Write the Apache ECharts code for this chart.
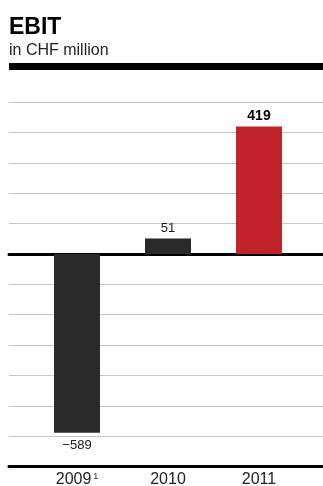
<!DOCTYPE html>
<html>
<head>
<meta charset="utf-8">
<script src="https://cdn.jsdelivr.net/npm/echarts@6/dist/echarts.min.js"></script>
<style>
html,body{margin:0;padding:0;background:#fff;}
#c{width:323px;height:486px;}
</style>
</head>
<body>
<div id="c"></div>
<script>
// ---- data ----
var categories = ['2009', '2010', '2011'];
var footnotes = ['1', '', ''];
var ebitValues = [-589, 51, 419];
var yTicks = { min: -700, max: 500, step: 100 };
var titleText = 'EBIT';
var subtitleText = 'in CHF million';

var DARK = '#2a2a2a', RED = '#c0232a', GRID = '#c6c6c6';
var FONT = '"Liberation Sans", Arial, sans-serif';
var hi = ebitValues.length - 1;

var chart = echarts.init(document.getElementById('c'), null, { renderer: 'canvas' });

var barData = ebitValues.map(function (v, i) {
  return {
    value: v,
    itemStyle: { color: i === hi ? RED : DARK },
    label: {
      position: v < 0 ? 'bottom' : 'top',
      distance: v < 0 ? 6 : 3,
      fontWeight: i === hi ? 'bold' : 'normal',
      fontSize: i === hi ? 14 : 13,
      color: i === hi ? '#000' : '#222'
    }
  };
});

chart.setOption({
  animation: false,
  backgroundColor: '#fff',
  title: {
    text: titleText,
    subtext: subtitleText,
    left: 4,
    top: 11,
    itemGap: 4,
    textStyle: { fontFamily: FONT, fontSize: 23, fontWeight: 900, color: '#000' },
    subtextStyle: { fontFamily: FONT, fontSize: 16, color: '#222' }
  },
  graphic: [{
    type: 'rect',
    shape: { x: 9, y: 63, width: 314, height: 7 },
    style: { fill: '#000' }
  }],
  grid: [
    { left: 9, right: 0, top: 102, bottom: 19.4, containLabel: false, outerBoundsMode: 'none' },
    { left: 31.5, right: 18.5, top: 102, bottom: 19.4, containLabel: false, outerBoundsMode: 'none' }
  ],
  xAxis: [
    { gridIndex: 0, type: 'value', min: 0, max: 1, position: 'bottom',
      axisLine: { show: true, onZero: false, lineStyle: { color: '#000', width: 3 } },
      axisTick: { show: false }, axisLabel: { show: false }, splitLine: { show: false } },
    { gridIndex: 0, type: 'value', min: 0, max: 1, position: 'top',
      axisLine: { show: true, onZero: true, lineStyle: { color: '#000', width: 3 } },
      axisTick: { show: false }, axisLabel: { show: false }, splitLine: { show: false } },
    { gridIndex: 1, type: 'category', data: categories, position: 'bottom',
      axisLine: { show: false, onZero: false }, axisTick: { show: false },
      splitLine: { show: false },
      axisLabel: {
        interval: 0,
        margin: 5,
        fontFamily: FONT, fontSize: 16, color: '#222',
        formatter: function (val, idx) {
          var f = footnotes[idx];
          return f ? '{y|' + val + '}{s|' + '\u2009' + f + '}' : '{y|' + val + '}';
        },
        rich: {
          y: { fontFamily: FONT, fontSize: 16, lineHeight: 16, color: '#222' },
          s: { fontFamily: FONT, fontSize: 9, lineHeight: 9, color: '#222', verticalAlign: 'top' }
        }
      } }
  ],
  yAxis: [
    { gridIndex: 0, type: 'value', min: yTicks.min, max: yTicks.max, interval: yTicks.step,
      axisLine: { show: false }, axisTick: { show: false }, axisLabel: { show: false },
      splitLine: { show: true, lineStyle: { color: GRID, width: 1.2 } } },
    { gridIndex: 1, type: 'value', min: yTicks.min, max: yTicks.max, interval: yTicks.step,
      show: false, splitLine: { show: false } }
  ],
  series: [{
    type: 'bar',
    xAxisIndex: 2,
    yAxisIndex: 1,
    barWidth: 46,
    data: barData,
    label: {
      show: true,
      fontFamily: FONT,
      formatter: function (p) {
        return p.value < 0 ? '\u2212' + Math.abs(p.value) : String(p.value);
      }
    },
    z: 3
  }]
});
</script>
</body>
</html>
